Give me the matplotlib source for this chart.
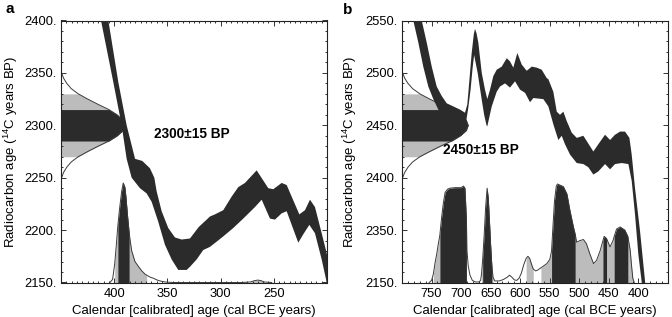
import numpy as np
import matplotlib
matplotlib.use("Agg")
import matplotlib.pyplot as plt
from matplotlib.ticker import MultipleLocator, FixedLocator, FixedFormatter

plt.rcParams['font.family'] = ['Liberation Sans', 'DejaVu Sans']
plt.rcParams['mathtext.fontset'] = 'custom'
plt.rcParams['mathtext.rm'] = 'Liberation Sans'
plt.rcParams['mathtext.it'] = 'Liberation Sans:italic'
plt.rcParams['mathtext.bf'] = 'Liberation Sans:bold'

DARK = '#2b2b2b'
LIGHT = '#bcbcbc'
LINE = '#3a3a3a'

# ---------------- Panel a data ----------------
a_xlim = (450, 200)
a_ylim = (2150, 2400)
a_yticks = [2150, 2200, 2250, 2300, 2350, 2400]
a_yticklabels = ['2150.', '2200.', '2250.', '2300.', '2350.', '2400.']
a_xticks = [400, 350, 300, 250]
a_xticklabels = ['400', '350', '300', '250']
a_date_mean = 2300
a_date_amp = 60          # width (cal years) of measured-date profile at its peak
a_label = '2300±15 BP'

# calibration band edges (cal BCE year, radiocarbon age)
a_up_x = [407.1, 405.5, 396.1, 388.3, 380.4, 373.6, 366.4, 362.3, 360.1, 355.4, 349.2, 342.9,
          336.6, 328.8, 320.5, 313.1, 310.0, 305.3, 297.5, 289.6, 283.4, 277.1, 266.1, 255.2,
          250.5, 242.6, 237.9, 226.0, 220.7, 216.0, 211.3, 205.0, 200.3, 197.0]
a_up_y = [2410, 2400, 2341, 2300, 2268, 2266, 2259, 2250, 2237, 2218, 2202, 2193,
          2191, 2192, 2203, 2210, 2213, 2215, 2219, 2232, 2241, 2245, 2257, 2240,
          2239, 2245, 2243, 2215, 2219, 2229, 2222, 2197, 2178, 2160]
a_lo_x = [414.3, 412.4, 400.8, 393.0, 388.3, 383.6, 375.8, 369.5, 364.8, 358.6, 352.3, 346.0,
          339.8, 331.9, 328.8, 322.5, 316.3, 310.0, 303.7, 297.5, 288.1, 278.7, 267.7, 261.4,
          253.6, 248.9, 242.6, 237.9, 227.0, 222.3, 216.6, 211.3, 205.0, 200.9, 198.0]
a_lo_y = [2410, 2400, 2341, 2300, 2268, 2250, 2240, 2235, 2227, 2208, 2186, 2172,
          2162, 2162, 2165, 2172, 2181, 2184, 2189, 2194, 2202, 2211, 2222, 2229,
          2211, 2210, 2216, 2218, 2188, 2196, 2205, 2197, 2172, 2153, 2135]

# calibrated probability (height above the base of the plot)
a_prob_x = [404, 401.5, 399.5, 398, 396.5, 395, 393, 391.5, 390, 389, 387.5, 386, 385, 383.5,
            380.5, 377, 374, 371, 369.5, 366, 363, 360, 357, 352, 345,
            280, 272, 268, 265, 262, 259, 252]
a_prob_h = [0, 3, 18, 36, 55, 70, 87, 95, 91, 82, 64, 48, 40, 30,
            20, 15, 11, 8, 7, 5, 4, 2.5, 1.5, 0.5, 0,
            0, 0.5, 1.8, 2.3, 1.8, 0.5, 0]
a_dark_ranges = [(396.5, 386)]
a_light_ranges = [(399.5, 369.5), (272, 259)]

# ---------------- Panel b data ----------------
b_xlim = (800, 350)
b_ylim = (2300, 2550)
b_yticks = [2300, 2350, 2400, 2450, 2500, 2550]
b_yticklabels = ['2150.', '2350.', '2400.', '2450.', '2500.', '2550.']
b_xticks = [750, 700, 650, 600, 550, 500, 450, 400]
b_xticklabels = ['750', '700', '650', '600', '550', '500', '450', '400']
b_date_mean = 2450
b_date_amp = 112
b_label = '2450±15 BP'

b_up_x = [770, 767, 758.2, 749.7, 741.3, 732.8, 724.4, 713.2, 701.9, 693.4, 689.5, 687.8,
          682.1, 678.5, 676.5, 674, 670.9, 665.1, 659.6, 655.7, 651.1, 645.5, 639.8, 631.3,
          622.8, 617.3, 611.7, 604.9, 597.5, 589, 580.5, 572, 563.6, 555.1, 552.4, 544,
          538.2, 532.7, 527, 521.3, 512.9, 504.4, 493.2, 487.5, 476.3, 467.8, 456.5, 448,
          439.6, 431.1, 422.7, 415.3, 411.4, 405.8, 397.3, 388.8, 386]
b_up_y = [2560, 2551, 2529, 2506, 2487, 2478, 2471, 2468, 2465, 2462, 2470, 2481,
          2519, 2537, 2542, 2538, 2529, 2500, 2484, 2475, 2484, 2497, 2503, 2506,
          2514, 2511, 2505, 2519, 2508, 2502, 2506, 2505, 2503, 2495, 2494, 2482,
          2463, 2460, 2463, 2454, 2443, 2438, 2440, 2435, 2425, 2432, 2441, 2436,
          2441, 2444, 2444, 2438, 2422, 2390, 2349, 2301, 2285]
b_lo_x = [784, 780.9, 772.4, 764, 755.5, 747, 738.6, 720, 705, 699, 696.3, 692,
          688, 684, 680.5, 678, 675.5, 672, 668.5, 665, 661, 657, 655.7, 648.2,
          639.8, 634.2, 625.7, 617.3, 608.8, 600.3, 591.8, 583.4, 577.8, 560.9, 552.4, 544,
          535.5, 529.8, 524.3, 515.7, 504.4, 493.2, 484.8, 476.3, 467.8, 456.5, 448, 439.6,
          428.3, 417, 411.4, 405.8, 400.2, 394.6, 392]
b_lo_y = [2560, 2550, 2529, 2506, 2487, 2475, 2465, 2452, 2444, 2440, 2448, 2452,
          2466, 2484, 2505, 2517, 2510, 2500, 2487, 2474, 2460, 2450, 2449, 2468,
          2482, 2487, 2490, 2486, 2492, 2484, 2481, 2472, 2476, 2475, 2468, 2451,
          2436, 2440, 2432, 2422, 2414, 2413, 2410, 2403, 2406, 2413, 2408, 2413,
          2414, 2413, 2397, 2365, 2327, 2301, 2285]

b_prob_x = [754, 750, 747, 744, 741, 738.5, 736, 733, 730, 727, 723, 719, 710, 700, 696, 693.5,
            691, 690, 688, 685, 681, 676, 670, 667, 665.5, 663.5, 661, 658.5, 656, 654, 652,
            650, 648, 646, 643, 635, 628, 622, 618, 614, 610, 606, 602, 598, 594, 590, 587,
            584, 580, 578, 574, 570, 565, 560, 555, 550, 547, 545, 542, 539, 537, 533, 527,
            521, 516, 510, 507, 504.5, 499, 493, 488, 482, 476, 471, 465, 460, 458, 454,
            448, 443, 441, 437, 431, 423, 418, 414, 411.5, 409.5, 407]
b_prob_h = [0, 2, 8, 19, 28, 37, 45, 62, 76, 86, 89, 90, 90.5, 90.5, 92, 90,
            60, 30, 16, 7, 2, 0.5, 0.5, 2, 8, 22, 45, 72, 90, 80, 58,
            35, 16, 5, 1.5, 1.5, 3, 5, 7, 5, 2.5, 2, 4, 9, 17, 23, 25,
            23, 16, 13, 11, 12, 14, 16, 18, 22, 30, 50, 78, 92, 94, 93, 91.5,
            84.5, 69, 53, 46, 38.5, 40, 41, 37, 27, 18, 21, 30, 40, 44, 42,
            34, 40, 44, 51, 53, 50, 44, 31, 15, 4, 0]
b_dark_ranges = [(736, 691), (663.5, 648), (547, 507), (460, 454), (441, 418)]
b_light_ranges = [(747, 736), (665.5, 646), (590, 578), (565, 547), (507, 409.5)]

# measured date profile (offset from mean in 14C years, relative width)
date_offsets = [-50, -45, -40, -35, -30, -25, -20, -15, -10, -5, 0,
                5, 10, 15, 20, 25, 30, 35, 40, 45, 50]
date_profile = [0.01, 0.04, 0.09, 0.16, 0.27, 0.42, 0.58, 0.75, 0.88, 0.97, 1.0,
                0.97, 0.88, 0.75, 0.58, 0.42, 0.27, 0.16, 0.09, 0.04, 0.01]
sigma1 = 15
sigma2 = 30


def draw_panel(ax, xlim, ylim, xticks, xticklabels, yticks, yticklabels, xminor,
               up_x, up_y, lo_x, lo_y, prob_x, prob_h, dark_ranges, light_ranges,
               date_mean, date_amp, label, label_xy):
    x0 = xlim[0]
    base = ylim[0]
    # measured radiocarbon date profile on the y axis
    off = np.array(date_offsets, dtype=float)
    yv = date_mean + off
    xw = x0 - date_amp * np.array(date_profile)
    ax.fill_betweenx(yv, x0, xw, where=np.abs(off) <= sigma2, color=LIGHT, lw=0, zorder=1)
    ax.fill_betweenx(yv, x0, xw, where=np.abs(off) <= sigma1, color=DARK, lw=0, zorder=2)
    ax.plot(xw, yv, color=LINE, lw=0.7, zorder=2)

    # calibrated probability distribution along the x axis
    px = np.array(prob_x, dtype=float)
    ph = base + np.array(prob_h, dtype=float)
    for hi, lo in light_ranges:
        m = (px <= hi) & (px >= lo)
        ax.fill_between(px, base, ph, where=m, color=LIGHT, lw=0, zorder=1)
    for hi, lo in dark_ranges:
        m = (px <= hi) & (px >= lo)
        ax.fill_between(px, base, ph, where=m, color=DARK, lw=0, zorder=2)
    ax.plot(px, ph, color=LINE, lw=0.7, zorder=2)

    # calibration curve band
    bx = np.r_[np.array(up_x, dtype=float), np.array(lo_x, dtype=float)[::-1]]
    by = np.r_[np.array(up_y, dtype=float), np.array(lo_y, dtype=float)[::-1]]
    ax.fill(bx, by, color=DARK, lw=0, zorder=3)

    ax.text(label_xy[0], label_xy[1], label, ha='center', va='center',
            fontsize=9.8, fontweight='bold', zorder=5)

    ax.set_xlim(*xlim)
    ax.set_ylim(*ylim)
    ax.xaxis.set_major_locator(FixedLocator(xticks))
    ax.xaxis.set_major_formatter(FixedFormatter(xticklabels))
    ax.yaxis.set_major_locator(FixedLocator(yticks))
    ax.yaxis.set_major_formatter(FixedFormatter(yticklabels))
    ax.xaxis.set_minor_locator(MultipleLocator(xminor))
    ax.yaxis.set_minor_locator(MultipleLocator(10))
    ax.tick_params(which='both', direction='in', top=True, right=True, labelsize=9.3,
                   width=0.7, color='#333333')
    ax.tick_params(which='major', length=3.5)
    ax.tick_params(which='minor', length=1.6)
    ax.tick_params(axis='x', pad=4)
    ax.tick_params(axis='y', pad=3)
    for s in ax.spines.values():
        s.set_linewidth(0.8)
        s.set_color('#222222')
    ax.set_xlabel('Calendar [calibrated] age (cal BCE years)', fontsize=9.5)
    ax.set_ylabel('Radiocarbon age ($\\mathregular{^{14}}$C years BP)', fontsize=9.5)
    ax.xaxis.set_label_coords(0.5, -0.087)


fig = plt.figure(figsize=(6.72, 3.17), dpi=100)
axA = fig.add_axes([61 / 672, 1 - 282.5 / 317, 266 / 672, 262 / 317])
axB = fig.add_axes([402 / 672, 1 - 282.5 / 317, 266 / 672, 262 / 317])

draw_panel(axA, a_xlim, a_ylim, a_xticks, a_xticklabels, a_yticks, a_yticklabels, 5,
           a_up_x, a_up_y, a_lo_x, a_lo_y, a_prob_x, a_prob_h, a_dark_ranges, a_light_ranges,
           a_date_mean, a_date_amp, a_label, (327, 2292))
draw_panel(axB, b_xlim, b_ylim, b_xticks, b_xticklabels, b_yticks, b_yticklabels, 10,
           b_up_x, b_up_y, b_lo_x, b_lo_y, b_prob_x, b_prob_h, b_dark_ranges, b_light_ranges,
           b_date_mean, b_date_amp, b_label, (667, 2426))
axA.yaxis.set_label_coords(-0.155, 0.5)
axB.yaxis.set_label_coords(-0.163, 0.5)

fig.text(5 / 672, 1 - 13 / 317, 'a', fontsize=11, fontweight='bold', va='baseline')
fig.text(343 / 672, 1 - 14 / 317, 'b', fontsize=11, fontweight='bold', va='baseline')

fig.savefig('out.png', dpi=100)
